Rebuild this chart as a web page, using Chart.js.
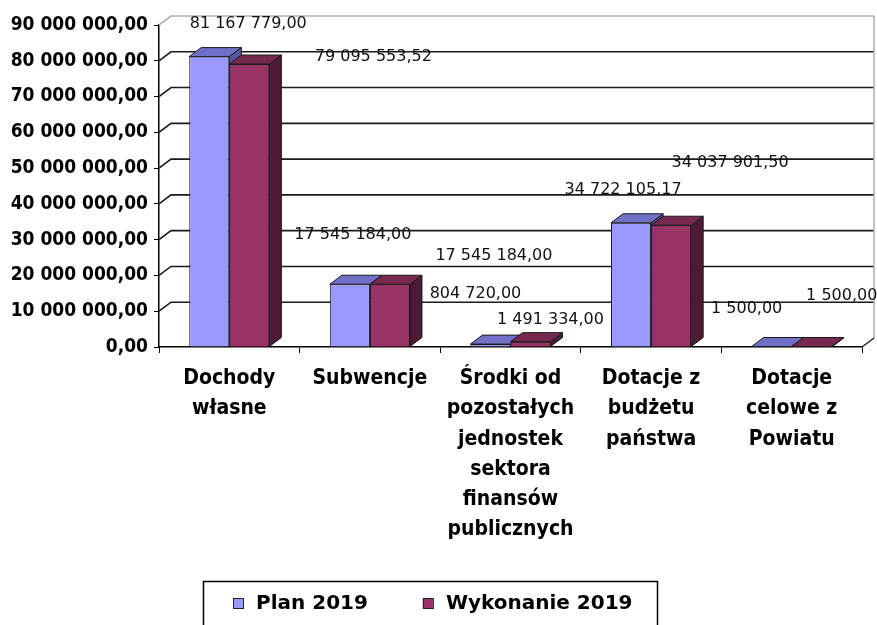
<!DOCTYPE html>
<html>
<head>
<meta charset="utf-8">
<script src="https://cdn.jsdelivr.net/npm/chart.js@4/dist/chart.umd.min.js"></script>
<style>
  html, body { margin: 0; padding: 0; background: #fff; }
  canvas { display: block; }
</style>
</head>
<body>
<canvas id="chart" width="877" height="625"></canvas>
<script>
// Dane
const categories = [
  ['Dochody', 'własne'],
  ['Subwencje'],
  ['Środki od', 'pozostałych', 'jednostek', 'sektora', 'finansów', 'publicznych'],
  ['Dotacje z', 'budżetu', 'państwa'],
  ['Dotacje', 'celowe z', 'Powiatu']
];
const plan2019 = [81167779.00, 17545184.00, 804720.00, 34722105.17, 1500.00];
const wykonanie2019 = [79095553.52, 17545184.00, 1491334.00, 34037901.50, 1500.00];
const seriesNames = ['Plan 2019', 'Wykonanie 2019'];
const yTicks = [0, 10000000, 20000000, 30000000, 40000000, 50000000, 60000000, 70000000, 80000000, 90000000];

// przesunięcia etykiet wartości względem górnej krawędzi słupka (jak w oryginale z Excela)
const planLabelShift = [[39, -33], [3, -49], [-15, -50], [-8, -33], [-25, -38]];
const wykLabelShift = [[124, -7], [104, -28], [20, -22], [59, -62], [30, -51]];

// głębokość efektu 3D
const DX = 12, DY = -9;

const faceColors = ['#9999FF', '#993366'];
const topColors = ['#7070C8', '#76284F'];
const sideColors = ['#5555A0', '#4D1A33'];

function formatPl(v) {
  const parts = Number(v).toFixed(2).split('.');
  return parts[0].replace(/\B(?=(\d{3})+(?!\d))/g, ' ') + ',' + parts[1];
}

function poly(ctx, pts, fill) {
  ctx.beginPath();
  ctx.moveTo(pts[0][0], pts[0][1]);
  for (let i = 1; i < pts.length; i++) ctx.lineTo(pts[i][0], pts[i][1]);
  ctx.closePath();
  ctx.fillStyle = fill;
  ctx.fill();
  ctx.lineWidth = 1;
  ctx.strokeStyle = '#1a1a1a';
  ctx.stroke();
}

function drawBox(ctx, bar, ds) {
  const x0 = bar.x - bar.width / 2, x1 = bar.x + bar.width / 2;
  const yTop = Math.min(bar.y, bar.base), yBot = Math.max(bar.y, bar.base);
  // bok
  poly(ctx, [[x1, yTop], [x1 + DX, yTop + DY], [x1 + DX, yBot + DY], [x1, yBot]], sideColors[ds]);
  // góra
  poly(ctx, [[x0, yTop], [x1, yTop], [x1 + DX, yTop + DY], [x0 + DX, yTop + DY]], topColors[ds]);
}

// ściana tylna z liniami siatki
const wallPlugin = {
  id: 'wall',
  beforeDatasetsDraw(chart) {
    const ctx = chart.ctx;
    const y = chart.scales.y;
    const a = chart.chartArea;
    ctx.save();
    yTicks.forEach(v => {
      if (v === 0) return;
      const py = y.getPixelForValue(v);
      ctx.strokeStyle = v === yTicks[yTicks.length - 1] ? '#b0b0b0' : '#1a1a1a';
      ctx.lineWidth = 1.6;
      ctx.beginPath();
      ctx.moveTo(a.left, py);
      ctx.lineTo(a.left + DX, py + DY);
      ctx.lineTo(a.right + DX, py + DY);
      ctx.stroke();
    });
    // prawa krawędź i podłoga
    ctx.strokeStyle = '#b0b0b0';
    ctx.lineWidth = 1.5;
    ctx.beginPath();
    ctx.moveTo(a.right + DX, a.top + DY);
    ctx.lineTo(a.right + DX, a.bottom + DY);
    ctx.stroke();
    ctx.strokeStyle = '#222';
    ctx.beginPath();
    ctx.moveTo(a.right, a.bottom);
    ctx.lineTo(a.right + DX, a.bottom + DY);
    ctx.stroke();
    ctx.restore();
  }
};

// ścianki 3D słupków i etykiety wartości
const boxPlugin = {
  id: 'box3d',
  afterDatasetsDraw(chart) {
    const ctx = chart.ctx;
    const m0 = chart.getDatasetMeta(0).data;
    const m1 = chart.getDatasetMeta(1).data;
    ctx.save();
    for (let i = 0; i < categories.length; i++) {
      drawBox(ctx, m0[i], 0);
      m1[i].draw(ctx);
      drawBox(ctx, m1[i], 1);
    }
    ctx.font = '16px "DejaVu Sans"';
    ctx.fillStyle = '#111';
    ctx.textAlign = 'center';
    ctx.textBaseline = 'middle';
    [[m0, plan2019, planLabelShift], [m1, wykonanie2019, wykLabelShift]].forEach(([bars, vals, shift]) => {
      bars.forEach((bar, i) => {
        ctx.fillText(formatPl(vals[i]), bar.x + shift[i][0], bar.y + shift[i][1]);
      });
    });
    ctx.restore();
  }
};

// legenda w ramce
const legendPlugin = {
  id: 'legendBox',
  afterDraw(chart) {
    const ctx = chart.ctx;
    ctx.save();
    ctx.strokeStyle = '#000';
    ctx.lineWidth = 1.5;
    ctx.strokeRect(203.5, 581.5, 454, 60);
    ctx.font = 'bold 20px "DejaVu Sans"';
    ctx.textBaseline = 'middle';
    ctx.textAlign = 'left';
    let x = 233;
    seriesNames.forEach((name, i) => {
      ctx.fillStyle = faceColors[i];
      ctx.fillRect(x, 598, 10, 10);
      ctx.lineWidth = 1;
      ctx.strokeStyle = '#222';
      ctx.strokeRect(x + 0.5, 598.5, 10, 10);
      ctx.fillStyle = '#000';
      ctx.fillText(name, x + 23, 604);
      x += 23 + ctx.measureText(name).width + 55;
    });
    ctx.restore();
  }
};

new Chart(document.getElementById('chart'), {
  type: 'bar',
  data: {
    labels: categories,
    datasets: [
      {
        label: seriesNames[0],
        data: plan2019,
        backgroundColor: faceColors[0],
        borderColor: '#1a1a1a',
        borderWidth: 1
      },
      {
        label: seriesNames[1],
        data: wykonanie2019,
        backgroundColor: faceColors[1],
        borderColor: '#1a1a1a',
        borderWidth: 1
      }
    ]
  },
  options: {
    responsive: false,
    animation: false,
    devicePixelRatio: 1,
    layout: { padding: { top: 25, right: 15, left: 0, bottom: 0 } },
    datasets: { bar: { barPercentage: 1, categoryPercentage: 0.57 } },
    plugins: {
      legend: { display: false },
      tooltip: { enabled: false }
    },
    scales: {
      x: {
        offset: true,
        grid: { offset: true, drawOnChartArea: false, color: '#000', tickLength: 6 },
        border: { color: '#000', width: 1.5 },
        ticks: {
          color: '#000',
          padding: 11,
          maxRotation: 0,
          autoSkip: false,
          font: { family: '"DejaVu Sans Condensed"', weight: 'bold', size: 21, lineHeight: 1.43 }
        },
        afterFit: s => { s.height = 278; }
      },
      y: {
        min: 0,
        max: 90000000,
        afterBuildTicks: s => { s.ticks = yTicks.map(v => ({ value: v })); },
        grid: { drawOnChartArea: false, color: '#000', tickLength: 5 },
        border: { color: '#000', width: 1.5 },
        ticks: {
          color: '#000',
          padding: 6,
          callback: v => formatPl(v),
          font: { family: '"DejaVu Sans Condensed"', weight: 'bold', size: 19 }
        },
        afterFit: s => { s.width = 159; }
      }
    }
  },
  plugins: [wallPlugin, boxPlugin, legendPlugin]
});
</script>
</body>
</html>
